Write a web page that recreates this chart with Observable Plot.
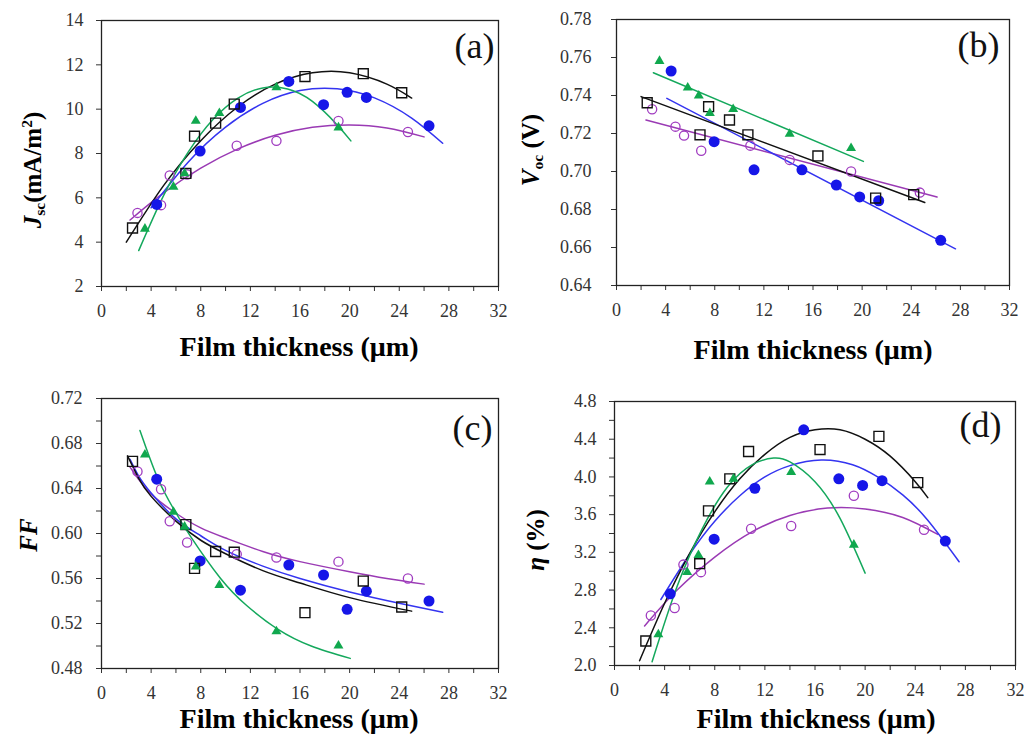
<!DOCTYPE html>
<html><head><meta charset="utf-8">
<script src="https://cdn.jsdelivr.net/npm/d3@7"></script>
<script src="https://cdn.jsdelivr.net/npm/@observablehq/plot@0.6"></script>
<style>
body{margin:0;background:#fff;}
#wrap{position:relative;width:1027px;height:735px;background:#fff;font-family:"Liberation Serif","Times New Roman",serif;overflow:hidden;}
.pnl{position:absolute;}
.xt{position:absolute;transform:translate(-50%,-50%) scaleX(1.04);font-weight:bold;font-size:27px;white-space:nowrap;color:#000;line-height:1;font-family:"Liberation Serif","Times New Roman",serif;}
.yt{position:absolute;transform:translate(-50%,-50%) rotate(-90deg);font-weight:bold;font-size:25px;white-space:nowrap;color:#000;line-height:1;font-family:"Liberation Serif","Times New Roman",serif;}
.yt sub{font-size:62%;vertical-align:-0.3em;line-height:0;}
.yt sup{font-size:62%;vertical-align:0.55em;line-height:0;}
</style></head><body><div id="wrap"></div>
<script>
// Film thickness (µm) of each series
const thickBlack  = [2.5, 6.8, 7.5, 9.2, 10.7, 16.4, 21.1, 24.2];
const thickBlue   = [4.45, 7.95, 11.2, 15.1, 17.9, 19.8, 21.35, 26.4];
const thickPurple = [2.9, 4.8, 5.5, 6.9, 10.9, 14.1, 19.1, 24.7];
const thickGreen  = [3.5, 5.8, 6.7, 7.6, 9.5, 14.1, 19.1];

// (a) Jsc
const jscBlack  = [4.64, 7.10, 8.78, 9.37, 10.23, 11.47, 11.60, 10.74];
const jscBlue   = [5.70, 8.11, 10.08, 11.25, 10.20, 10.76, 10.53, 9.25];
const jscPurple = [5.32, 5.67, 7.01, 7.05, 8.35, 8.57, 9.47, 8.97];
const jscGreen  = [4.60, 6.50, 7.10, 9.47, 9.82, 10.98, 9.17];
// (b) Voc
const vocBlack  = [0.7362, 0.7193, 0.7341, 0.7271, 0.7193, 0.7082, 0.6860, 0.6878];
const vocBlue   = [0.7529, 0.7157, 0.7009, 0.7009, 0.6929, 0.6866, 0.6846, 0.6638];
const vocPurple = [0.7328, 0.7236, 0.7189, 0.7109, 0.7136, 0.7061, 0.7000, 0.6889];
const vocGreen  = [0.7581, 0.7441, 0.7399, 0.7307, 0.7328, 0.7198, 0.7123];
// (c) FF
const ffBlack  = [0.6641, 0.6079, 0.5690, 0.5840, 0.5834, 0.5296, 0.5577, 0.5347];
const ffBlue   = [0.6483, 0.5756, 0.5496, 0.5720, 0.5631, 0.5326, 0.5487, 0.5400];
const ffPurple = [0.6551, 0.6393, 0.6109, 0.5920, 0.5816, 0.5786, 0.5750, 0.5600];
const ffGreen  = [0.6701, 0.6192, 0.6060, 0.5705, 0.5541, 0.5129, 0.5003];
// (d) efficiency
const etaBlack  = [2.26, 3.08, 3.64, 3.98, 4.27, 4.29, 4.43, 3.94];
const etaBlue   = [2.76, 3.34, 3.88, 4.50, 3.98, 3.91, 3.96, 3.32];
const etaPurple = [2.53, 2.61, 3.07, 2.99, 3.45, 3.48, 3.80, 3.44];
const etaGreen  = [2.33, 2.99, 3.17, 3.95, 3.98, 4.05, 3.28];

// fitted trend curves
const jscFitBlackX  = [2, 5, 8, 11, 14, 17, 20, 23, 25];
const jscFitBlackY  = [4.0, 6.55, 8.58, 10.11, 11.13, 11.64, 11.64, 11.13, 10.5];
const jscFitBlueX   = [4, 7, 10, 13, 16, 19, 22, 25, 27.5];
const jscFitBlueY   = [5.55, 7.62, 9.19, 10.26, 10.84, 10.92, 10.51, 9.6, 8.46];
const jscFitPurpleX = [2.3, 5, 8, 11, 14, 17, 20, 23, 26];
const jscFitPurpleY = [5.0, 6.22, 7.34, 8.21, 8.82, 9.18, 9.29, 9.15, 8.75];
const jscFitGreenX  = [3, 5, 7, 9, 11, 13, 15, 17, 19, 20.1];
const jscFitGreenY  = [3.62, 6.1, 8.07, 9.54, 10.5, 10.96, 10.91, 10.35, 9.29, 8.57];

const vocFitBlackX  = [2.0, 25.1];  const vocFitBlackY  = [0.7394, 0.6837];
const vocFitBlueX   = [4.1, 27.6];  const vocFitBlueY   = [0.7385, 0.6593];
const vocFitPurpleX = [2.4, 26.1];  const vocFitPurpleY = [0.7271, 0.6866];
const vocFitGreenX  = [3.0, 20.1];  const vocFitGreenY  = [0.7520, 0.7053];

const ffFitBlackX  = [2.1, 3, 4, 6, 8, 10, 13, 16, 20, 25];
const ffFitBlackY  = [0.669, 0.649, 0.633, 0.611, 0.594, 0.582, 0.567, 0.556, 0.543, 0.531];
const ffFitBlueX   = [2.3, 3, 4, 6, 8, 10, 13, 16, 20, 24, 27.5];
const ffFitBlueY   = [0.666, 0.651, 0.636, 0.613, 0.598, 0.585, 0.571, 0.560, 0.548, 0.538, 0.530];
const ffFitPurpleX = [2.3, 3, 4, 6, 8, 10, 13, 16, 20, 23, 26];
const ffFitPurpleY = [0.659, 0.648, 0.635, 0.618, 0.605, 0.596, 0.584, 0.575, 0.566, 0.560, 0.555];
const ffFitGreenX  = [3.1, 4.5, 5.8, 7.2, 9.6, 11.7, 14.2, 16.9, 20.05];
const ffFitGreenY  = [0.6916, 0.650, 0.622, 0.597, 0.560, 0.536, 0.515, 0.500, 0.489];

const etaFitBlackX  = [2, 4, 6, 8, 10, 12, 14, 16, 18, 20, 22, 24, 25];
const etaFitBlackY  = [2.05, 2.66, 3.19, 3.63, 3.98, 4.24, 4.42, 4.50, 4.50, 4.40, 4.22, 3.95, 3.78];
const etaFitBlueX   = [3.7, 6, 8, 10, 12, 14, 16.5, 19, 21, 23, 25, 27.5];
const etaFitBlueY   = [2.70, 3.18, 3.53, 3.80, 4.00, 4.12, 4.18, 4.13, 4.00, 3.81, 3.54, 3.10];
const etaFitPurpleX = [2.4, 5, 8, 11, 14, 17, 20, 23, 25.8];
const etaFitPurpleY = [2.42, 2.80, 3.15, 3.42, 3.59, 3.67, 3.66, 3.57, 3.39];
const etaFitGreenX  = [3, 5, 7, 9, 11, 12.7, 14, 16, 18, 20];
const etaFitGreenY  = [2.04, 2.84, 3.45, 3.89, 4.13, 4.20, 4.16, 3.95, 3.56, 2.98];

// axis ticks
const xTicks   = [0, 2, 4, 6, 8, 10, 12, 14, 16, 18, 20, 22, 24, 26, 28, 30, 32];
const jscTicks = [2, 4, 6, 8, 10, 12, 14];
const vocTicks = [0.64, 0.66, 0.68, 0.70, 0.72, 0.74, 0.76, 0.78];
const ffTicks  = [0.48, 0.50, 0.52, 0.54, 0.56, 0.58, 0.60, 0.62, 0.64, 0.66, 0.68, 0.70, 0.72];
const etaTicks = [2.0, 2.2, 2.4, 2.6, 2.8, 3.0, 3.2, 3.4, 3.6, 3.8, 4.0, 4.2, 4.4, 4.6, 4.8];

const C_BLACK = "#111111", C_BLUE = "#1616e8", C_BLUE_L = "#3434f0",
      C_PURPLE = "#a03cc0", C_PURPLE_L = "#9a3ab4", C_GREEN = "#10a84e", C_GREEN_L = "#14a85c";
const SERIF = "'Liberation Serif', 'Times New Roman', serif";

const pts = (xs, ys) => xs.map((x, i) => ({x, y: ys[i]}));
const wrap = document.getElementById("wrap");

function panel(cfg) {
  const curves = [
    [cfg.fitPurple, C_PURPLE_L], [cfg.fitBlue, C_BLUE_L], [cfg.fitBlack, C_BLACK], [cfg.fitGreen, C_GREEN_L]
  ];
  const chart = Plot.plot({
    width: cfg.w, height: cfg.h,
    marginLeft: cfg.ml, marginRight: cfg.mr, marginTop: cfg.mt, marginBottom: cfg.mb,
    style: {fontFamily: SERIF, fontSize: "18px", color: "#333", background: "transparent", overflow: "visible"},
    x: {domain: [0, 32]},
    y: {domain: cfg.yDomain},
    marks: [
      Plot.axisX({ticks: xTicks, tickFormat: d => d % 4 === 0 ? String(d) : "", tickSize: 5, tickPadding: 13, label: null, fontSize: 18, fontFamily: SERIF}),
      Plot.axisY({ticks: cfg.yTicks, tickFormat: cfg.yFmt, tickSize: 5, tickPadding: cfg.yPad, label: null, fontSize: 18, fontFamily: SERIF}),
      Plot.frame({stroke: "#222", strokeWidth: 1.3}),
      ...curves.map(([c, col]) => Plot.line(pts(c[0], c[1]), {x: "x", y: "y", stroke: col, strokeWidth: 1.5, curve: cfg.curve})),
      Plot.dot(pts(thickPurple, cfg.purple), {x: "x", y: "y", r: 4.6, stroke: C_PURPLE, strokeWidth: 1.3, fill: "none"}),
      Plot.dot(pts(thickBlue, cfg.blue), {x: "x", y: "y", r: 5.5, fill: C_BLUE, stroke: "none"}),
      Plot.dot(pts(thickBlack, cfg.black), {x: "x", y: "y", symbol: "square", r: 5.6, stroke: C_BLACK, strokeWidth: 1.4, fill: "none"}),
      Plot.dot(pts(thickGreen, cfg.green), {x: "x", y: "y", symbol: "triangle", r: 3.7, fill: C_GREEN, stroke: "none"}),
      Plot.text([cfg.letter], {text: d => d, frameAnchor: "top-right", dx: cfg.ldx, dy: cfg.ldy, fontSize: 36, fill: "#111", fontFamily: SERIF})
    ]
  });
  chart.classList.add("pnl");
  chart.style.left = cfg.left + "px";
  chart.style.top = cfg.top + "px";
  wrap.appendChild(chart);
}

panel({left: 0, top: 0, w: 510, h: 360, ml: 101, mr: 12, mt: 20, mb: 74,
  yDomain: [2, 14], yTicks: jscTicks, yFmt: d => String(d), yPad: 13,
  black: jscBlack, blue: jscBlue, purple: jscPurple, green: jscGreen,
  fitBlack: [jscFitBlackX, jscFitBlackY], fitBlue: [jscFitBlueX, jscFitBlueY],
  fitPurple: [jscFitPurpleX, jscFitPurpleY], fitGreen: [jscFitGreenX, jscFitGreenY],
  curve: "natural", letter: "(a)", ldx: -4, ldy: 12});

panel({left: 510, top: 0, w: 517, h: 360, ml: 106, mr: 18, mt: 19, mb: 75,
  yDomain: [0.64, 0.78], yTicks: vocTicks, yFmt: d => d.toFixed(2), yPad: 20,
  black: vocBlack, blue: vocBlue, purple: vocPurple, green: vocGreen,
  fitBlack: [vocFitBlackX, vocFitBlackY], fitBlue: [vocFitBlueX, vocFitBlueY],
  fitPurple: [vocFitPurpleX, vocFitPurpleY], fitGreen: [vocFitGreenX, vocFitGreenY],
  curve: "linear", letter: "(b)", ldx: -10, ldy: 12});

panel({left: 0, top: 360, w: 510, h: 375, ml: 101, mr: 12, mt: 38, mb: 67,
  yDomain: [0.48, 0.72], yTicks: ffTicks, yFmt: d => Math.round(d * 100) % 4 === 0 ? d.toFixed(2) : "", yPad: 14,
  black: ffBlack, blue: ffBlue, purple: ffPurple, green: ffGreen,
  fitBlack: [ffFitBlackX, ffFitBlackY], fitBlue: [ffFitBlueX, ffFitBlueY],
  fitPurple: [ffFitPurpleX, ffFitPurpleY], fitGreen: [ffFitGreenX, ffFitGreenY],
  curve: "natural", letter: "(c)", ldx: -6, ldy: 16});

panel({left: 510, top: 360, w: 517, h: 375, ml: 104, mr: 12, mt: 41, mb: 70,
  yDomain: [2.0, 4.8], yTicks: etaTicks, yFmt: d => Math.round(d * 10) % 4 === 0 ? d.toFixed(1) : "", yPad: 13,
  black: etaBlack, blue: etaBlue, purple: etaPurple, green: etaGreen,
  fitBlack: [etaFitBlackX, etaFitBlackY], fitBlue: [etaFitBlueX, etaFitBlueY],
  fitPurple: [etaFitPurpleX, etaFitPurpleY], fitGreen: [etaFitGreenX, etaFitGreenY],
  curve: "natural", letter: "(d)", ldx: -14, ldy: 10});

function addText(cls, html, x, y) {
  const d = document.createElement("div");
  d.className = cls; d.innerHTML = html;
  d.style.left = x + "px"; d.style.top = y + "px";
  wrap.appendChild(d);
}
const xTitle = "Film thickness (μm)";
addText("xt", xTitle, 299, 347);
addText("xt", xTitle, 813, 350);
addText("xt", xTitle, 299, 719);
addText("xt", xTitle, 816, 719);
addText("yt", "<i>J</i><sub>sc</sub>(mA/m<sup>2</sup>)", 32, 170);
addText("yt", "<i>V</i><sub>oc</sub> (V)", 530, 150);
addText("yt", "<i>FF</i>", 28, 535);
addText("yt", "<i>η</i> (%)", 535, 540);
</script></body></html>
